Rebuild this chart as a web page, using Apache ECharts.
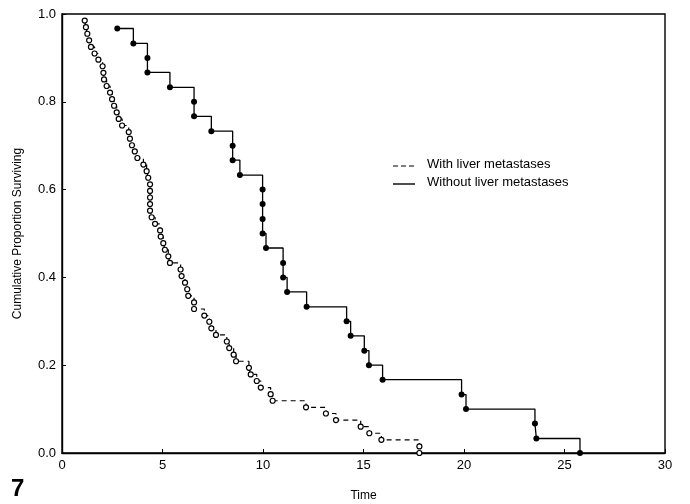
<!DOCTYPE html>
<html>
<head>
<meta charset="utf-8">
<script src="https://cdn.jsdelivr.net/npm/echarts@6/dist/echarts.min.js"></script>
<style>
  html, body { margin: 0; padding: 0; background: #fff; }
  #chart { width: 690px; height: 504px; }
</style>
</head>
<body>
<div id="chart"></div>
<script>
// without liver metastases (filled dots), one point per death
var withoutTime = [2.75, 3.55, 4.25, 4.25, 5.37, 6.57, 6.57, 7.43, 8.49, 8.49,
  8.85, 9.98, 9.98, 9.98, 9.98, 10.15, 11.0, 11.0, 11.2, 12.17,
  14.16, 14.36, 15.04, 15.27, 15.95, 19.88, 20.1, 23.53, 23.6, 25.77];
var withoutSurv = [0.967, 0.933, 0.900, 0.867, 0.833, 0.800, 0.767, 0.733, 0.700, 0.667,
  0.633, 0.600, 0.567, 0.533, 0.500, 0.467, 0.433, 0.400, 0.367, 0.333,
  0.300, 0.267, 0.233, 0.200, 0.167, 0.133, 0.100, 0.067, 0.033, 0.0];

// with liver metastases (open circles)
var withTime = [1.13, 1.19, 1.26, 1.35, 1.44, 1.62, 1.81, 2.02, 2.06, 2.09,
  2.22, 2.39, 2.49, 2.59, 2.72, 2.82, 2.99, 3.32, 3.38, 3.48,
  3.62, 3.75, 4.05, 4.21, 4.29, 4.38, 4.38, 4.38, 4.38, 4.38,
  4.46, 4.63, 4.88, 4.91, 5.04, 5.12, 5.29, 5.37, 5.9, 5.95,
  6.12, 6.23, 6.28, 6.57, 6.57, 7.08, 7.33, 7.43, 7.66, 8.2,
  8.32, 8.54, 8.66, 9.3, 9.39, 9.69, 9.89, 10.38, 10.48, 12.14,
  13.13, 13.63, 14.86, 15.29, 15.89, 17.78, 17.78];
var withSurv = [0.985, 0.970, 0.955, 0.940, 0.925, 0.910, 0.896, 0.881, 0.866, 0.851,
  0.836, 0.821, 0.806, 0.791, 0.776, 0.761, 0.746, 0.731, 0.716, 0.701,
  0.687, 0.672, 0.657, 0.642, 0.627, 0.612, 0.597, 0.582, 0.567, 0.552,
  0.537, 0.522, 0.507, 0.493, 0.478, 0.463, 0.448, 0.433, 0.418, 0.403,
  0.388, 0.373, 0.358, 0.343, 0.328, 0.313, 0.299, 0.284, 0.269, 0.254,
  0.239, 0.224, 0.209, 0.194, 0.179, 0.164, 0.149, 0.134, 0.119, 0.104,
  0.090, 0.075, 0.060, 0.045, 0.030, 0.015, 0.0];

var xTicks = [0, 5, 10, 15, 20, 25, 30];
var yTicks = [0.0, 0.2, 0.4, 0.6, 0.8, 1.0];

function pairs(xs, ys) {
  var out = [];
  for (var i = 0; i < xs.length; i++) out.push([xs[i], ys[i]]);
  return out;
}

var font = 'Liberation Sans, Arial, sans-serif';
var chart = echarts.init(document.getElementById('chart'));

var option = {
  backgroundColor: '#fff',
  animation: false,
  grid: { left: 62, right: 25, top: 14, bottom: 51, outerBoundsMode: 'none', containLabel: false,
    show: true, borderColor: '#000', borderWidth: 1.4, backgroundColor: 'transparent' },
  xAxis: {
    type: 'value', min: xTicks[0], max: xTicks[xTicks.length - 1], interval: 5,
    name: 'Time', nameLocation: 'middle', nameGap: 37,
    nameTextStyle: { color: '#000', fontSize: 12, fontFamily: font },
    axisLine: { lineStyle: { color: '#000', width: 1.4 } },
    axisTick: { inside: true, length: 4, lineStyle: { color: '#000' } },
    axisLabel: { color: '#000', fontSize: 13, fontFamily: font, margin: 6 },
    splitLine: { show: false }
  },
  yAxis: {
    type: 'value', min: yTicks[0], max: yTicks[yTicks.length - 1], interval: 0.2,
    name: 'Cumulative Proportion Surviving', nameLocation: 'middle', nameGap: 38,
    nameTextStyle: { color: '#000', fontSize: 12, fontFamily: font },
    axisLine: { show: true, lineStyle: { color: '#000', width: 1.4 } },
    axisTick: { show: true, inside: true, length: 4, lineStyle: { color: '#000' } },
    axisLabel: { color: '#000', fontSize: 13, fontFamily: font, margin: 6,
      formatter: function (v) { return v.toFixed(1); } },
    splitLine: { show: false }
  },
  series: [
    {
      name: 'With liver metastases', type: 'line', step: 'end',
      data: pairs(withTime, withSurv),
      symbol: 'circle', symbolSize: 5, showAllSymbol: true,
      itemStyle: { color: '#fff', borderColor: '#000', borderWidth: 1.2 },
      lineStyle: { color: '#000', width: 1.2, type: [5, 4] }
    },
    {
      name: 'Without liver metastases', type: 'line', step: 'end',
      data: pairs(withoutTime, withoutSurv),
      symbol: 'circle', symbolSize: 6, showAllSymbol: true,
      itemStyle: { color: '#000', borderColor: '#000', borderWidth: 0 },
      lineStyle: { color: '#000', width: 1.3 }
    }
  ],
  graphic: [
    { type: 'line', shape: { x1: 393, y1: 166, x2: 415, y2: 166 }, style: { stroke: '#000', lineWidth: 1.2, lineDash: [5, 3] } },
    { type: 'text', left: 427, top: 158, style: { text: 'With liver metastases', fill: '#000', font: '13px ' + font } },
    { type: 'line', shape: { x1: 393, y1: 184, x2: 415, y2: 184 }, style: { stroke: '#000', lineWidth: 1.4 } },
    { type: 'text', left: 427, top: 176, style: { text: 'Without liver metastases', fill: '#000', font: '13px ' + font } },
    { type: 'text', left: 11, top: 477, style: { text: '7', fill: '#000', font: 'bold 24px ' + font } }
  ]
};

chart.setOption(option);
</script>
</body>
</html>
